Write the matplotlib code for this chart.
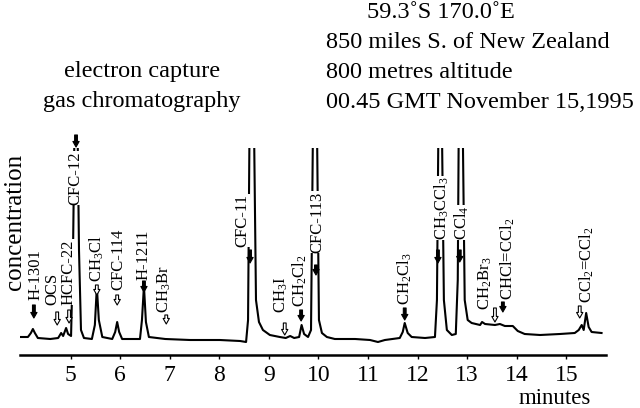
import matplotlib
matplotlib.use("Agg")
import matplotlib.pyplot as plt

plt.rcParams['font.family'] = ['Liberation Serif', 'DejaVu Serif']
plt.rcParams['mathtext.fontset'] = 'custom'
plt.rcParams['mathtext.rm'] = 'Liberation Serif'
plt.rcParams['mathtext.it'] = 'Liberation Serif'

# Detector trace: time (minutes), signal (arbitrary units).
times = [4.00, 4.14, 4.20, 4.24, 4.28, 4.34, 4.59, 4.75, 4.81, 4.85,
         4.91, 4.95, 5.01, 5.05, 5.08, 5.14, 5.17, 5.21, 5.27, 5.43,
         5.49, 5.53, 5.57, 5.64, 5.84, 5.90, 5.94, 5.98, 6.04, 6.40,
         6.44, 6.48, 6.52, 6.58, 6.91, 7.41, 8.01, 8.42, 8.54, 8.58,
         8.61, 8.70, 8.74, 8.80, 8.88, 9.02, 9.22, 9.34, 9.43, 9.51,
         9.61, 9.66, 9.71, 9.79, 9.85, 9.89, 9.97, 10.01, 10.07, 10.17,
         10.33, 10.74, 11.04, 11.20, 11.34, 11.64, 11.70, 11.74, 11.80, 11.88,
         12.15, 12.35, 12.39, 12.42, 12.49, 12.53, 12.59, 12.69, 12.77, 12.81,
         12.83, 12.91, 12.95, 13.01, 13.09, 13.26, 13.30, 13.36, 13.56, 13.66,
         13.76, 13.92, 14.02, 14.16, 14.47, 14.87, 15.17, 15.25, 15.31, 15.35,
         15.40, 15.45, 15.51, 15.71]
signal = [18, 18, 22, 26, 22, 17, 16, 17, 22, 19,
          27, 21, 19, 105, 230, 230, 105, 25, 17, 16,
          30, 68, 35, 18, 16, 23, 33, 23, 16, 16,
          35, 69, 33, 18, 16, 15, 15, 14, 13, 35,
          230, 230, 55, 33, 25, 20, 18, 17, 19, 17,
          18, 30, 21, 18, 25, 230, 230, 35, 22, 18,
          16, 16, 15, 13, 15, 17, 23, 32, 22, 18,
          17, 18, 55, 230, 230, 55, 25, 20, 21, 75,
          230, 230, 55, 35, 32, 30, 33, 31, 30, 31,
          29, 29, 24, 21, 20, 21, 22, 25, 30, 25,
          42, 28, 23, 22]

# Peak labels and their arrows
names = ['H-1301', 'OCS', 'HCFC-22', 'CFC-12', 'CH$_3$Cl', 'CFC-114', 'H-1211',
         'CH$_3$Br', 'CFC-11', 'CH$_3$I', 'CH$_2$Cl$_2$', 'CFC-113', 'CH$_2$Cl$_3$',
         'CH$_3$CCl$_3$', 'CCl$_4$', 'CH$_2$Br$_3$', 'CHCl=CCl$_2$', 'CCl$_2$=CCl$_2$']
label_t = [4.30, 4.63, 4.95, 5.09, 5.53, 5.96, 6.48, 6.89, 8.46, 9.26,
           9.63, 9.97, 11.74, 12.49, 12.89, 13.36, 13.82, 15.41]
label_s = [55, 50, 50, 150, 73, 65, 75, 42, 108, 42,
           48, 102, 50, 115, 115, 45, 55, 52]
arrow_t = [4.26, 4.73, 4.97, 5.11, 5.53, 5.94, 6.48, 6.93, 8.62, 9.32,
           9.65, 9.95, 11.74, 12.41, 12.85, 13.56, 13.72, 15.27]
arrow_top = [50, 43, 45, 220, 70, 60, 74, 40, 105, 32,
             45, 90, 47, 105, 105, 47, 53, 49]
arrow_tip = [37, 30, 32, 208, 60, 50, 63, 31, 92, 20,
             34, 80, 35, 92, 93, 33, 43, 37]
arrow_fill = ['k', 'w', 'w', 'k', 'w', 'w', 'k', 'w', 'k', 'w',
              'k', 'k', 'k', 'k', 'k', 'w', 'k', 'w']
xticks = [5, 6, 7, 8, 9, 10, 11, 12, 13, 14, 15]

fig = plt.figure(figsize=(6.4, 4.08), dpi=100)
ax = fig.add_axes([20 / 640, 53 / 408, 586 / 640, 207 / 408])
ax.plot(times, signal, color='black', lw=1.5)
ax.set_xlim(3.98, 15.80)
ax.set_ylim(0, 207)
for side in ['top', 'right', 'left']:
    ax.spines[side].set_visible(False)
ax.spines['bottom'].set_linewidth(1.8)
ax.set_yticks([])
ax.set_xticks(xticks)
ax.tick_params(axis='x', direction='out', length=3, width=1, pad=4, labelsize=17)

for i, name in enumerate(names):
    ax.text(label_t[i], label_s[i], name, rotation=90, ha='center', va='bottom',
            fontsize=12, clip_on=False,
            bbox=dict(facecolor='white', edgecolor='none', pad=0.3))
    ax.annotate('', xy=(arrow_t[i], arrow_tip[i]), xytext=(arrow_t[i], arrow_top[i]),
                annotation_clip=False,
                arrowprops=dict(arrowstyle='simple,head_width=0.45,head_length=0.4,tail_width=0.2',
                                fc=arrow_fill[i], ec='black', lw=0.8,
                                shrinkA=0, shrinkB=0))

fig.text(15 / 640, 1 - 222 / 408, 'concentration', rotation=90, ha='center', va='center',
         fontsize=18)
fig.text(555 / 640, 1 - 398 / 408, 'minutes', ha='center', va='center', fontsize=16.5)

fig.text(441 / 640, 1 - 13 / 408, '59.3˚S 170.0˚E', ha='center', va='center', fontsize=17.5)
fig.text(326 / 640, 1 - 42 / 408, '850 miles S. of New Zealand', ha='left', va='center', fontsize=17.5)
fig.text(326 / 640, 1 - 72 / 408, '800 metres altitude', ha='left', va='center', fontsize=17.5)
fig.text(326 / 640, 1 - 102 / 408, '00.45 GMT November 15,1995', ha='left', va='center', fontsize=17.5)
fig.text(142 / 640, 1 - 72 / 408, 'electron capture', ha='center', va='center', fontsize=17.5)
fig.text(142 / 640, 1 - 102 / 408, 'gas chromatography', ha='center', va='center', fontsize=17.5)

fig.savefig('out.png', dpi=100)
